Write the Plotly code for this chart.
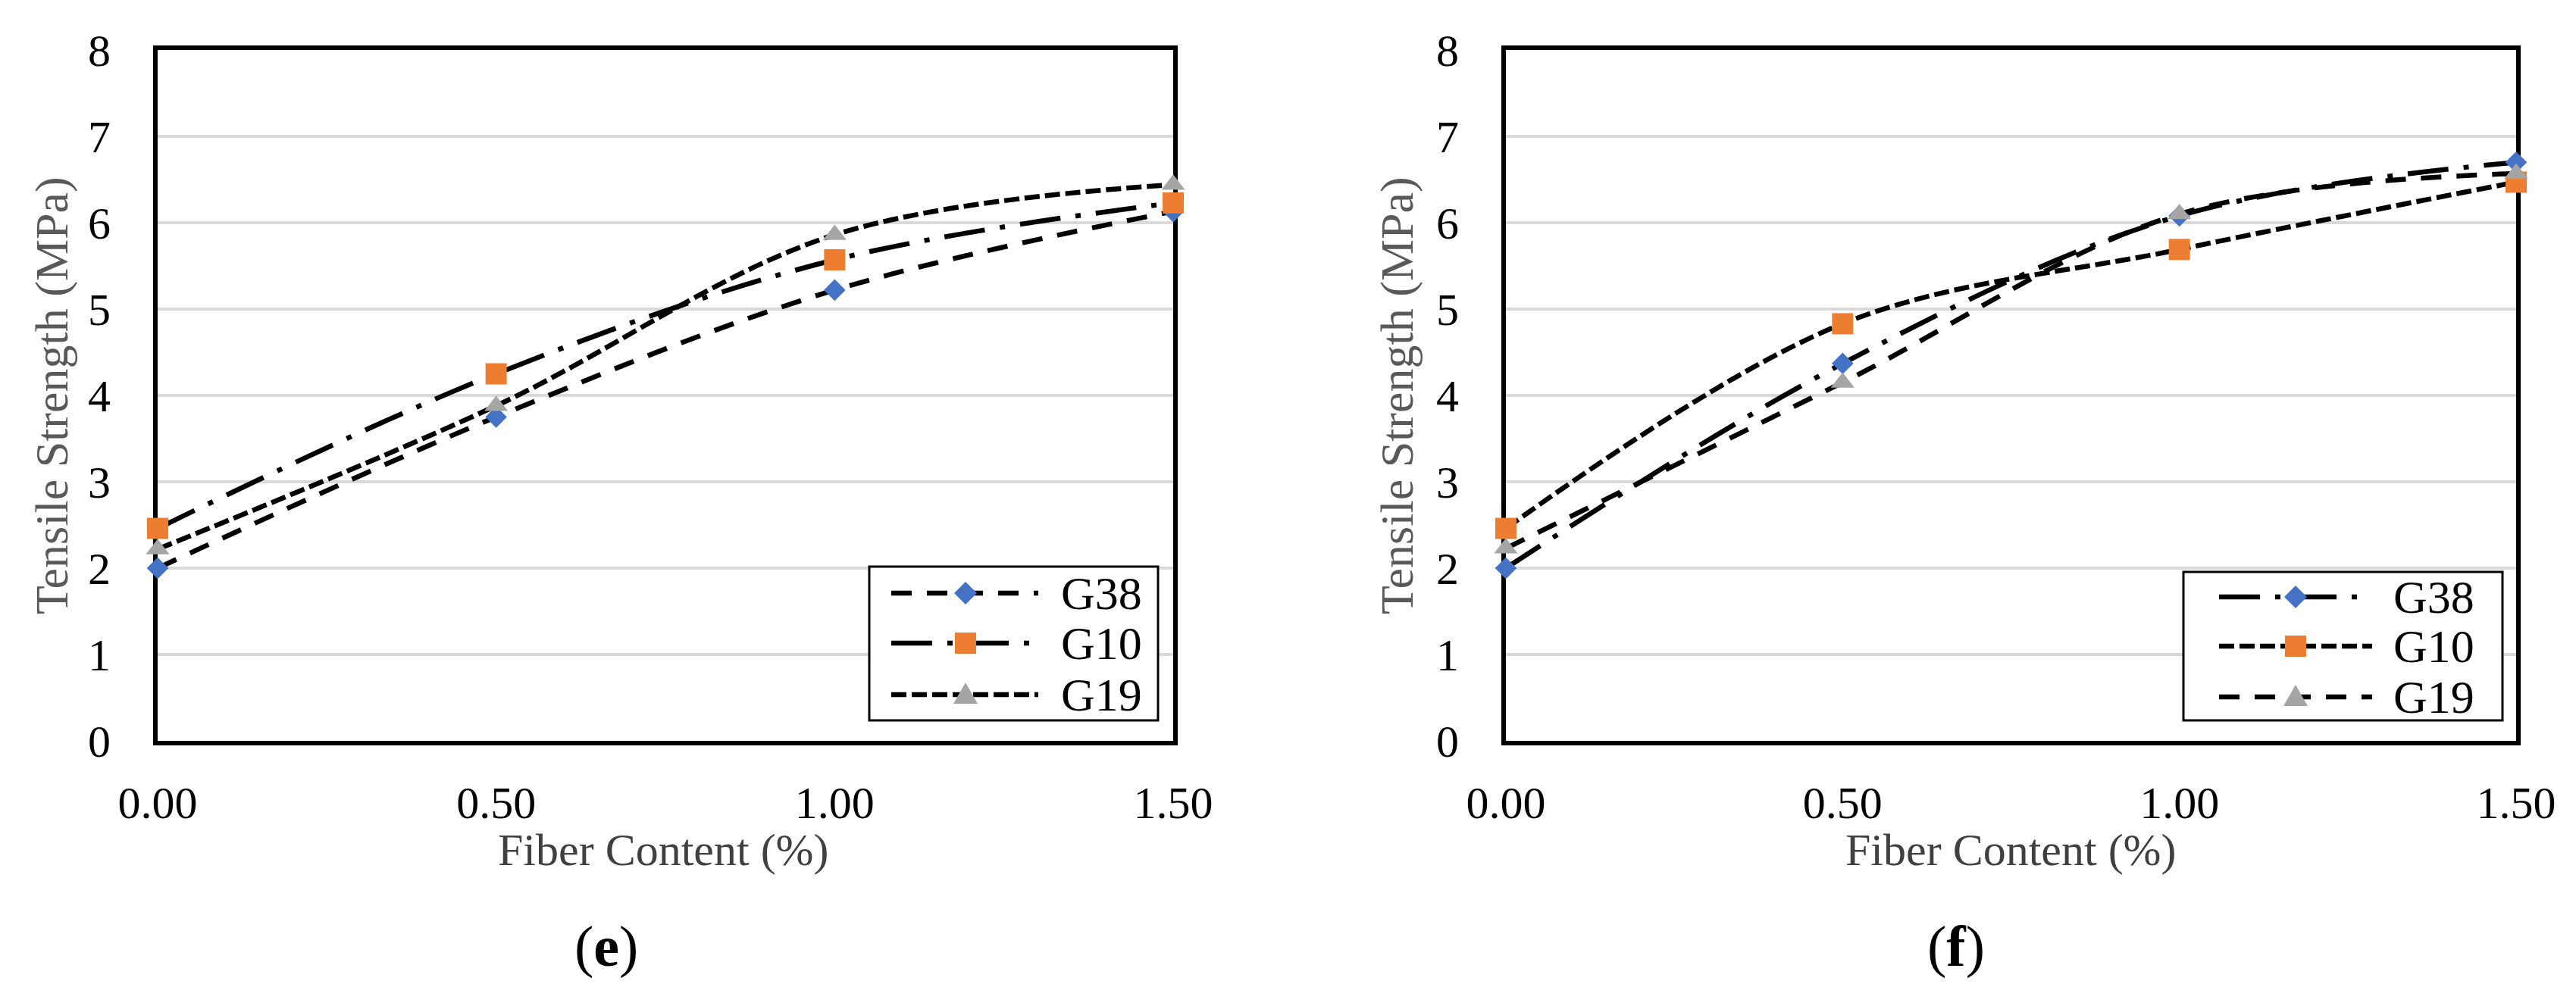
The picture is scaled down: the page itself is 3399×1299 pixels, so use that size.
import plotly.graph_objects as go

# ---------------- data ----------------
fiber = [0.0, 0.5, 1.0, 1.5]
x_ticks = [0.0, 0.5, 1.0, 1.5]
x_tick_text = ["0.00", "0.50", "1.00", "1.50"]
y_ticks = [0, 1, 2, 3, 4, 5, 6, 7, 8]
series_names = ["G38", "G10", "G19"]

e_G38 = [2.00, 3.75, 5.22, 6.13]
e_G10 = [2.46, 4.25, 5.57, 6.23]
e_G19 = [2.22, 3.88, 5.86, 6.44]

f_G38 = [2.00, 4.37, 6.08, 6.70]
f_G10 = [2.46, 4.83, 5.69, 6.47]
f_G19 = [2.23, 4.15, 6.10, 6.57]

panel_labels = ["e", "f"]

# ---------------- styles ----------------
W, H = 3399, 1299
FONT = "Liberation Serif"
colors = {"G38": "#4472C4", "G10": "#ED7D31", "G19": "#A5A5A5"}
symbols = {"G38": "diamond", "G10": "square", "G19": "triangle-up"}
msize = {"G38": 22, "G10": 28, "G19": 27}
DASH_LONG = "27px,20px"
DASH_SHORT = "20px,7px"
DASH_LDD = "54px,20px,7px,20px"
LW = 6.5

panels = [
    {"data": {"G38": e_G38, "G10": e_G10, "G19": e_G19},
     "dash": {"G38": DASH_LONG, "G10": DASH_LDD, "G19": DASH_SHORT},
     "xdom": (200, 1540), "ax": ("x", "y"),
     "ytitle_x": 60, "xtitle_x": 867, "label_x": 792,
     "legbox": (1139, 740, 1520, 943), "legrows": [775, 841, 909],
     "legline": (1168, 1362), "legmark": 1266, "legtext": 1390},
    {"data": {"G38": f_G38, "G10": f_G10, "G19": f_G19},
     "dash": {"G38": DASH_LDD, "G10": DASH_SHORT, "G19": DASH_LONG},
     "xdom": (1979, 3312), "ax": ("x2", "y2"),
     "ytitle_x": 1835, "xtitle_x": 2645, "label_x": 2573,
     "legbox": (2873, 747, 3294, 943), "legrows": [780, 845, 912],
     "legline": (2920, 3122), "legmark": 3021, "legtext": 3148},
]

Y_TOP, Y_BOT = 58, 970


def px(x):
    return x / W


def py(y):
    return 1 - y / H


fig = go.Figure()
shapes = []
annotations = []

for i, p in enumerate(panels):
    xa, ya = p["ax"]
    for name in series_names:
        fig.add_trace(go.Scatter(
            x=fiber, y=p["data"][name], name=name, xaxis=xa, yaxis=ya,
            mode="lines+markers", showlegend=False, cliponaxis=False,
            line=dict(color="black", width=LW, dash=p["dash"][name],
                      shape="spline", smoothing=1.0),
            marker=dict(color=colors[name], symbol=symbols[name],
                        size=msize[name], line=dict(width=0)),
        ))

    # custom legend
    bx0, by0, bx1, by1 = p["legbox"]
    shapes.append(dict(type="rect", xref="paper", yref="paper",
                       x0=px(bx0), x1=px(bx1), y0=py(by1), y1=py(by0),
                       line=dict(color="black", width=3),
                       fillcolor="white", layer="above"))
    lx0, lx1 = p["legline"]
    mx = p["legmark"]
    for name, ry in zip(series_names, p["legrows"]):
        shapes.append(dict(type="line", xref="paper", yref="paper",
                           x0=px(lx0), x1=px(lx1), y0=py(ry), y1=py(ry),
                           line=dict(color="black", width=LW,
                                     dash=p["dash"][name]),
                           layer="above"))
        if name == "G38":
            r = 15
            pts = [(mx, ry - r), (mx + r, ry), (mx, ry + r), (mx - r, ry)]
        elif name == "G10":
            r = 14
            pts = [(mx - r, ry - r), (mx + r, ry - r), (mx + r, ry + r), (mx - r, ry + r)]
        else:
            pts = [(mx, ry - 16), (mx + 16, ry + 12), (mx - 16, ry + 12)]
        path = "M " + " L ".join(f"{px(a):.6f},{py(b):.6f}" for a, b in pts) + " Z"
        shapes.append(dict(type="path", xref="paper", yref="paper", path=path,
                           fillcolor=colors[name], line=dict(width=0),
                           layer="above"))
        annotations.append(dict(text=name, xref="paper", yref="paper",
                                x=px(p["legtext"]), y=py(ry), xanchor="left",
                                yanchor="middle", showarrow=False,
                                font=dict(family=FONT, size=62, color="black")))

    # axis titles & panel label
    annotations.append(dict(text="Tensile Strength (MPa)", xref="paper", yref="paper",
                            x=px(p["ytitle_x"]), y=py((Y_TOP + Y_BOT) / 2),
                            textangle=-90, xanchor="center", yanchor="middle",
                            showarrow=False,
                            font=dict(family=FONT, size=62, color="#595959")))
    annotations.append(dict(text="Fiber Content (%)", xref="paper", yref="paper",
                            x=px(p["xtitle_x"]), y=py(1114),
                            xanchor="center", yanchor="middle", showarrow=False,
                            font=dict(family=FONT, size=60, color="#404040")))
    annotations.append(dict(text=f"(<b>{panel_labels[i]}</b>)", xref="paper", yref="paper",
                            x=px(p["label_x"]), y=py(1241),
                            xanchor="center", yanchor="middle", showarrow=False,
                            font=dict(family=FONT, size=76, color="black")))

axis_common = dict(showline=True, linecolor="black", linewidth=6, mirror=True,
                   zeroline=False, ticks="", layer="below traces",
                   automargin=False,
                   tickfont=dict(family=FONT, size=60, color="black"))

layout = dict(
    template="none",
    width=W, height=H, margin=dict(l=0, r=0, t=0, b=0, pad=0),
    paper_bgcolor="white", plot_bgcolor="white",
    shapes=shapes, annotations=annotations, showlegend=False,
)
for i, p in enumerate(panels):
    sfx = "" if i == 0 else str(i + 1)
    x0, x1 = p["xdom"]
    layout["xaxis" + sfx] = dict(
        axis_common, domain=[px(x0), px(x1)], range=[0, 1.5],
        tickvals=x_ticks, ticktext=x_tick_text, showgrid=False,
        anchor="y" + sfx, ticklabelstandoff=24)
    layout["yaxis" + sfx] = dict(
        axis_common, domain=[py(Y_BOT), py(Y_TOP)], range=[0, 8],
        tickvals=y_ticks, showgrid=True, gridcolor="#d9d9d9", gridwidth=4,
        anchor="x" + sfx, ticklabelstandoff=44)

fig.update_layout(**layout)
fig.write_html("out.html")
